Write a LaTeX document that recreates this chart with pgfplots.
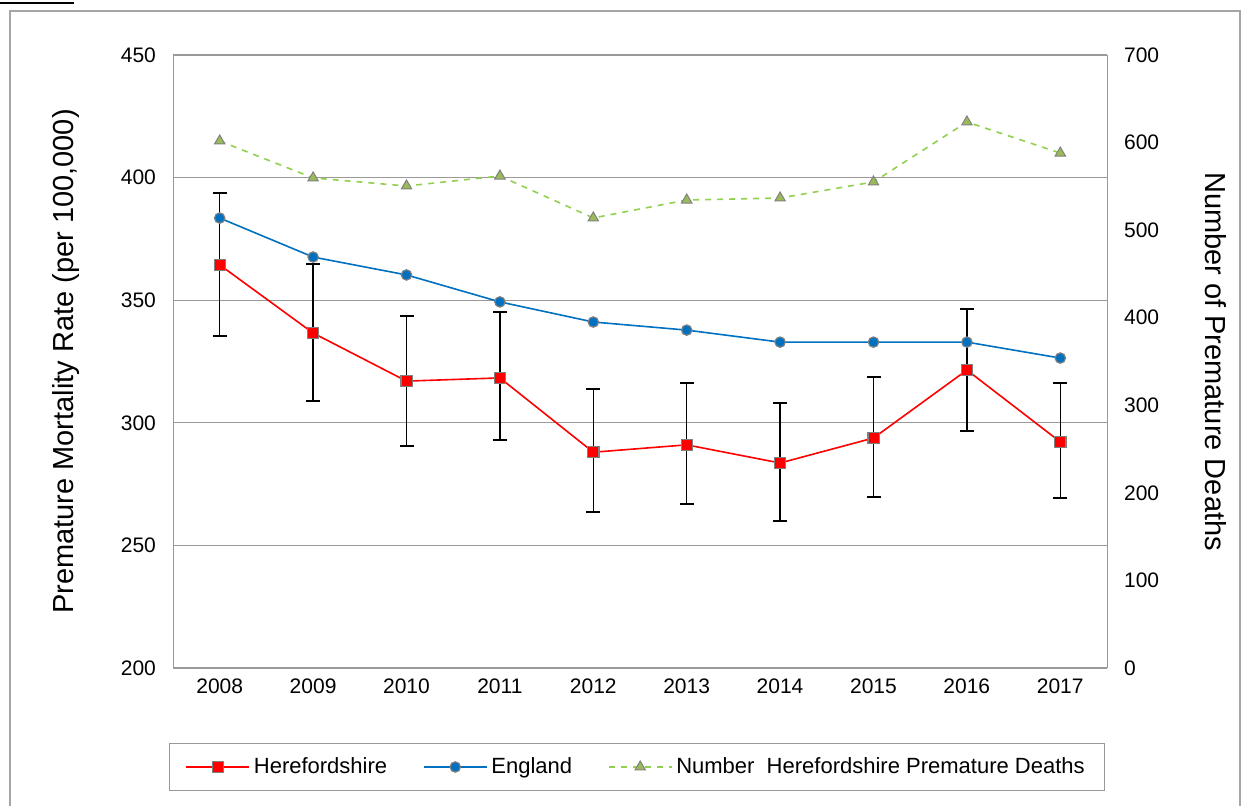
\documentclass[border=0pt]{standalone}
\usepackage{pgfplots}
\pgfplotsset{compat=1.18}
\usepackage{fontspec}
\setmainfont{Liberation Sans}
\definecolor{hred}{RGB}{255,0,0}
\definecolor{eblue}{RGB}{0,112,192}
\definecolor{dgreen}{RGB}{146,208,80}
\definecolor{tgreen}{RGB}{155,187,89}
\begin{document}
\begin{tikzpicture}[x=1pt,y=1pt]
\path[use as bounding box] (0,0) rectangle (626,403);
\draw[gray!70,line width=0.6pt] (5,0) -- (5,397.5) -- (620,397.5) -- (620,0);
\draw[black,line width=1.2pt] (0,401.5) -- (37,401.5);
\pgfplotsset{every axis/.style={font=\fontsize{10.5}{12}\selectfont},
  /pgf/number format/assume math mode=true}
\begin{axis}[at={(86.5pt,69pt)},anchor=south west,scale only axis,
  width=467pt,height=306.5pt,
  xmin=2007.5,xmax=2017.5,ymin=200,ymax=450,
  xtick={2008,...,2017},ytick={200,250,...,450},
  x tick label style={/pgf/number format/1000 sep={},yshift=-2pt},
  y tick label style={xshift=-5pt},
  major tick length=0pt,
  axis line style={gray!80},
  ymajorgrids, grid style={gray!80,line width=0.6pt},
  axis y line*=left, axis x line*=bottom,
  ylabel={\fontsize{14.5}{16}\selectfont Premature Mortality Rate (per 100,000)},
  ylabel style={yshift=14pt},
  legend style={at={(0.497,-0.1615)},anchor=center,legend columns=3,
    draw=gray!80,font=\fontsize{11}{13}\selectfont,
    /tikz/every even column/.append style={column sep=16pt},
    inner xsep=8pt,inner ysep=5pt},
  legend image code/.code={
    \draw[mark repeat=2,mark phase=2,#1] plot coordinates {(0cm,0cm)(0.55cm,0cm)(1.1cm,0cm)};},
  legend cell align=left]
\addplot[hred,line width=0.8pt,mark=square*,mark size=2.8pt,
  mark options={fill=hred,draw=gray,line width=0.6pt},
  error bars/.cd,y dir=both,y explicit,
  error bar style={black,line width=0.7pt},error mark options={black,rotate=90,mark size=3.5pt,line width=0.7pt}]
  table[x=x,y=y,y error plus=ep,y error minus=em]{
x y ep em
2008 364.4 29.3 29.0
2009 336.6 28.2 27.7
2010 317.0 26.6 26.5
2011 318.3 26.9 25.3
2012 288.0 25.8 24.4
2013 291.0 25.2 24.1
2014 283.6 24.5 23.6
2015 293.8 24.9 24.1
2016 321.5 24.9 24.8
2017 292.2 24.0 22.9
};
\addlegendentry{Herefordshire}
\addplot[eblue,line width=0.8pt,mark=*,mark size=2.6pt,
  mark options={fill=eblue,draw=gray,line width=0.6pt}]
  coordinates {(2008,383.5)(2009,367.6)(2010,360.3)(2011,349.3)(2012,341.1)
  (2013,337.8)(2014,332.9)(2015,332.9)(2016,332.9)(2017,326.4)};
\addlegendentry{England}
\addlegendimage{dgreen,dashed,line width=0.8pt,mark=triangle*,mark size=3pt,
  mark options={solid,fill=tgreen,draw=gray,line width=0.5pt}}
\addlegendentry{Number\ \ Herefordshire Premature Deaths}
\end{axis}
\begin{axis}[at={(86.5pt,69pt)},anchor=south west,scale only axis,
  width=467pt,height=306.5pt,
  xmin=2007.5,xmax=2017.5,ymin=0,ymax=700,
  ytick={0,100,...,700},
  y tick label style={xshift=5pt},
  axis y line*=right, axis x line=none,
  major tick length=0pt,
  axis line style={gray!80},
  ylabel={\fontsize{14.5}{16}\selectfont Number of Premature Deaths},
  ylabel style={rotate=180,yshift=16pt}]
\addplot[dgreen,dashed,line width=0.8pt,mark=triangle*,mark size=3pt,
  mark options={solid,fill=tgreen,draw=gray,line width=0.5pt}]
  coordinates {(2008,601.8)(2009,559.6)(2010,550.4)(2011,561.8)(2012,513.9)
  (2013,534.4)(2014,536.7)(2015,555)(2016,623.5)(2017,588)};
\end{axis}
\end{tikzpicture}
\end{document}
